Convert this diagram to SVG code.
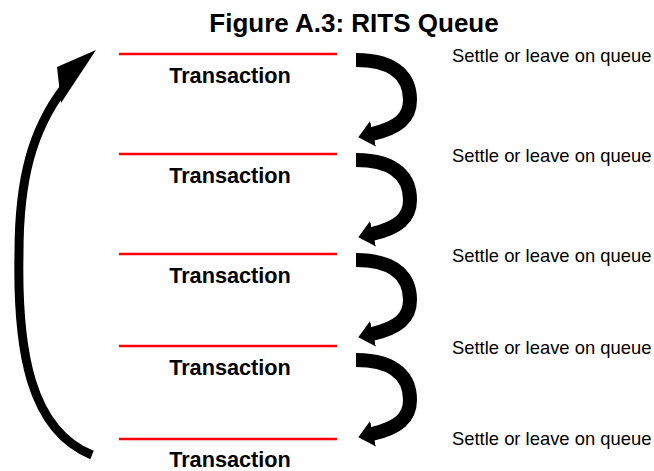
<svg xmlns="http://www.w3.org/2000/svg" width="654" height="471" viewBox="0 0 654 471">
<style>
.title{font-family:"Liberation Sans",Arial,sans-serif;font-weight:bold;font-size:26px;fill:#000;text-anchor:middle}
.tx{font-family:"Liberation Sans",Arial,sans-serif;font-weight:bold;font-size:21.7px;fill:#000;text-anchor:middle}
.st{font-family:"Liberation Sans",Arial,sans-serif;font-size:18.4px;fill:#000}
.bar{stroke:#ff0000;stroke-width:2.5;fill:none}
.loop{fill:none;stroke:#000;stroke-width:14}
.back{fill:none;stroke:#000;stroke-width:9}
</style>
<defs>
<marker id="head" markerUnits="userSpaceOnUse" markerWidth="18" markerHeight="30" viewBox="0 -15 18 30" refX="1" refY="0" orient="auto">
<path d="M0,-13 L15,0 L0,13 Z" fill="#000"/>
</marker>
<path id="loopPath" class="loop" d="M356,60 C398,60 410,80 410,100 C410,118 398,128 372,134" marker-end="url(#head)"/>
</defs>
<rect width="654" height="471" fill="#fff"/>
<text class="title" x="354" y="32">Figure A.3: RITS Queue</text>
<g id="tx1"><line class="bar" x1="119" y1="54" x2="337" y2="54"/><text class="tx" x="230" y="82.5">Transaction</text></g>
<g id="tx2"><line class="bar" x1="119" y1="154" x2="337" y2="154"/><text class="tx" x="230" y="182.5">Transaction</text></g>
<g id="tx3"><line class="bar" x1="119" y1="254" x2="337" y2="254"/><text class="tx" x="230" y="282.5">Transaction</text></g>
<g id="tx4"><line class="bar" x1="119" y1="346" x2="337" y2="346"/><text class="tx" x="230" y="374.5">Transaction</text></g>
<g id="tx5"><line class="bar" x1="119" y1="439" x2="337" y2="439"/><text class="tx" x="230" y="467">Transaction</text></g>
<g id="lbl1"><text class="st" x="452" y="61.5">Settle or leave on queue</text></g>
<g id="lbl2"><text class="st" x="452" y="161.5">Settle or leave on queue</text></g>
<g id="lbl3"><text class="st" x="452" y="261.5">Settle or leave on queue</text></g>
<g id="lbl4"><text class="st" x="452" y="353.5">Settle or leave on queue</text></g>
<g id="lbl5"><text class="st" x="452" y="445">Settle or leave on queue</text></g>
<g id="connectors">
<use href="#loopPath"/>
<use href="#loopPath" transform="translate(0,100)"/>
<use href="#loopPath" transform="translate(0,200)"/>
<use href="#loopPath" transform="translate(0,300)"/>
<path class="back" d="M92,455 C30,430 17,350 19,253 C19,180 32,130 64,88"/>
<polygon points="96,50 57,67 61,103" fill="#000"/>
</g>
</svg>
